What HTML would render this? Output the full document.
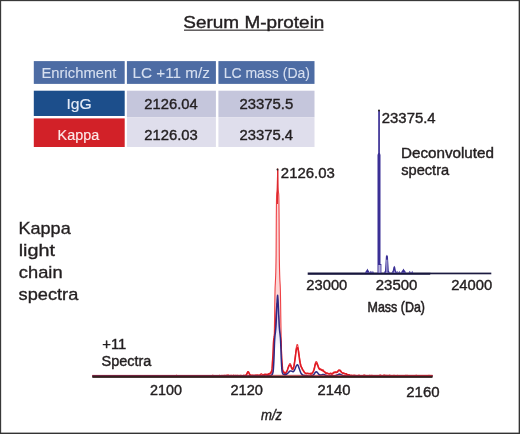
<!DOCTYPE html>
<html><head><meta charset="utf-8"><title>Serum M-protein</title>
<style>html,body{margin:0;padding:0;background:#fff}svg{display:block}</style></head>
<body>
<svg width="520" height="434" viewBox="0 0 520 434" font-family='"Liberation Sans", Arial, Helvetica, sans-serif'>
<rect x="0" y="0" width="520" height="434" fill="#fff"/>
<text x="183.35" y="28.0" font-size="17" textLength="141.06" lengthAdjust="spacingAndGlyphs" fill="#231f20" stroke="#231f20" stroke-width="0.4" >Serum M-protein</text>
<rect x="184" y="29.6" width="139.5" height="1.1" fill="#231f20"/>
<rect x="33.8" y="61.1" width="90.9" height="22.8" fill="#4d6ca4"/>
<rect x="126.9" y="61.1" width="89.0" height="22.8" fill="#4d6ca4"/>
<rect x="218.4" y="61.1" width="96.1" height="22.8" fill="#4d6ca4"/>
<rect x="33.8" y="90.7" width="90.9" height="25.3" fill="#1c4e8b"/>
<rect x="33.8" y="118.4" width="90.9" height="28.6" fill="#d22128"/>
<rect x="126.9" y="90.7" width="89.0" height="26.5" fill="#c5c6dc"/>
<rect x="126.9" y="117.2" width="89.0" height="29.8" fill="#dfdeec"/>
<rect x="218.4" y="90.7" width="96.1" height="26.5" fill="#c5c6dc"/>
<rect x="218.4" y="117.2" width="96.1" height="29.8" fill="#dfdeec"/>
<text x="41.49" y="78.0" font-size="15.2" textLength="74.81" lengthAdjust="spacingAndGlyphs" fill="#d6dff0" stroke="#d6dff0" stroke-width="0.12" >Enrichment</text>
<text x="132.55" y="78.3" font-size="15.2" textLength="77.40" lengthAdjust="spacingAndGlyphs" fill="#d6dff0" stroke="#d6dff0" stroke-width="0.12" >LC +11 m/z</text>
<text x="223.65" y="78.1" font-size="15.2" textLength="86.31" lengthAdjust="spacingAndGlyphs" fill="#d6dff0" stroke="#d6dff0" stroke-width="0.12" >LC mass (Da)</text>
<text x="66.46" y="108.8" font-size="15.2" textLength="25.30" lengthAdjust="spacingAndGlyphs" fill="#e4ebf7" stroke="#e4ebf7" stroke-width="0.15" >IgG</text>
<text x="57.62" y="139.9" font-size="15.2" textLength="41.57" lengthAdjust="spacingAndGlyphs" fill="#fce9e8" stroke="#fce9e8" stroke-width="0.15" >Kappa</text>
<text x="144.36" y="109.4" font-size="15" textLength="53.26" lengthAdjust="spacingAndGlyphs" fill="#231f20" stroke="#231f20" stroke-width="0.4" >2126.04</text>
<text x="144.36" y="140.0" font-size="15" textLength="53.47" lengthAdjust="spacingAndGlyphs" fill="#231f20" stroke="#231f20" stroke-width="0.4" >2126.03</text>
<text x="239.46" y="109.4" font-size="15" textLength="53.85" lengthAdjust="spacingAndGlyphs" fill="#231f20" stroke="#231f20" stroke-width="0.4" >23375.5</text>
<text x="239.46" y="140.0" font-size="15" textLength="53.67" lengthAdjust="spacingAndGlyphs" fill="#231f20" stroke="#231f20" stroke-width="0.4" >23375.4</text>
<text x="18.52" y="233.9" font-size="17" textLength="52.17" lengthAdjust="spacingAndGlyphs" fill="#231f20" stroke="#231f20" stroke-width="0.35" >Kappa</text>
<text x="18.68" y="256.1" font-size="17" textLength="36.25" lengthAdjust="spacingAndGlyphs" fill="#231f20" stroke="#231f20" stroke-width="0.35" >light</text>
<text x="18.83" y="278.2" font-size="17" textLength="43.75" lengthAdjust="spacingAndGlyphs" fill="#231f20" stroke="#231f20" stroke-width="0.35" >chain</text>
<text x="18.61" y="300.0" font-size="17" textLength="59.68" lengthAdjust="spacingAndGlyphs" fill="#231f20" stroke="#231f20" stroke-width="0.35" >spectra</text>
<text x="102.29" y="348.6" font-size="14" textLength="24.02" lengthAdjust="spacingAndGlyphs" fill="#231f20" stroke="#231f20" stroke-width="0.4" >+11</text>
<text x="101.55" y="366.4" font-size="14" textLength="49.84" lengthAdjust="spacingAndGlyphs" fill="#231f20" stroke="#231f20" stroke-width="0.4" >Spectra</text>
<clipPath id="pk"><rect x="270" y="160" width="16" height="192"/></clipPath>
<polygon points="92.5,376.0 92.5,375.9 93.0,376.0 93.5,375.9 94.0,375.8 94.5,375.9 95.0,375.9 95.5,376.0 96.0,376.0 96.5,375.9 97.0,376.0 97.5,376.0 98.0,375.9 98.5,375.9 99.0,375.9 99.5,376.0 100.0,375.9 100.5,375.9 101.0,375.9 101.5,375.9 102.0,376.0 102.5,376.0 103.0,375.9 103.5,375.8 104.0,375.8 104.5,375.9 105.0,376.0 105.5,375.9 106.0,375.9 106.5,375.9 107.0,375.9 107.5,375.9 108.0,375.9 108.5,375.8 109.0,375.8 109.5,375.8 110.0,375.9 110.5,375.9 111.0,375.9 111.5,375.8 112.0,375.9 112.5,376.0 113.0,375.9 113.5,376.0 114.0,375.9 114.5,375.9 115.0,375.9 115.5,375.9 116.0,375.8 116.5,375.8 117.0,375.9 117.5,376.0 118.0,375.9 118.5,375.9 119.0,375.9 119.5,376.0 120.0,375.9 120.5,375.8 121.0,375.8 121.5,375.9 122.0,375.9 122.5,375.9 123.0,375.9 123.5,375.9 124.0,375.9 124.5,375.9 125.0,375.9 125.5,375.7 126.0,375.7 126.5,375.8 127.0,375.9 127.5,375.8 128.0,375.9 128.5,376.0 129.0,376.0 129.5,375.9 130.0,375.9 130.5,375.9 131.0,376.0 131.5,375.9 132.0,375.9 132.5,376.0 133.0,376.0 133.5,376.0 134.0,375.9 134.5,376.0 135.0,376.0 135.5,376.0 136.0,376.0 136.5,375.9 137.0,375.8 137.5,375.8 138.0,375.9 138.5,376.0 139.0,375.9 139.5,376.0 140.0,376.0 140.5,376.0 141.0,376.0 141.5,376.0 142.0,376.0 142.5,375.9 143.0,375.9 143.5,375.9 144.0,375.9 144.5,376.0 145.0,376.0 145.5,376.0 146.0,375.9 146.5,375.9 147.0,375.9 147.5,375.9 148.0,376.0 148.5,376.0 149.0,376.0 149.5,375.9 150.0,375.8 150.5,375.9 151.0,375.9 151.5,376.0 152.0,376.0 152.5,375.9 153.0,375.9 153.5,375.9 154.0,375.8 154.5,375.9 155.0,375.8 155.5,375.8 156.0,375.9 156.5,376.0 157.0,376.0 157.5,375.9 158.0,375.9 158.5,375.9 159.0,376.0 159.5,375.9 160.0,376.0 160.5,376.0 161.0,375.9 161.5,376.0 162.0,376.0 162.5,376.0 163.0,375.9 163.5,375.9 164.0,375.8 164.5,375.9 165.0,375.9 165.5,375.9 166.0,375.9 166.5,375.9 167.0,376.0 167.5,375.9 168.0,375.9 168.5,375.9 169.0,375.8 169.5,375.8 170.0,375.9 170.5,376.0 171.0,375.9 171.5,375.9 172.0,375.8 172.5,375.8 173.0,375.8 173.5,375.9 174.0,376.0 174.5,375.9 175.0,375.9 175.5,375.8 176.0,375.8 176.5,375.9 177.0,375.9 177.5,376.0 178.0,375.9 178.5,375.8 179.0,375.8 179.5,375.9 180.0,375.9 180.5,375.9 181.0,375.9 181.5,375.9 182.0,375.9 182.5,375.9 183.0,376.0 183.5,375.9 184.0,375.9 184.5,375.9 185.0,376.0 185.5,375.9 186.0,375.9 186.5,375.9 187.0,375.9 187.5,375.8 188.0,375.7 188.5,375.7 189.0,375.8 189.5,375.9 190.0,375.9 190.5,375.9 191.0,375.9 191.5,375.8 192.0,375.8 192.5,375.9 193.0,375.9 193.5,375.9 194.0,375.9 194.5,375.8 195.0,375.7 195.5,375.6 196.0,375.7 196.5,375.9 197.0,375.9 197.5,376.0 198.0,375.9 198.5,375.9 199.0,375.9 199.5,375.9 200.0,375.9 200.5,375.9 201.0,375.9 201.5,375.8 202.0,375.8 202.5,375.7 203.0,375.7 203.5,375.8 204.0,375.8 204.5,375.9 205.0,375.8 205.5,375.9 206.0,375.9 206.5,375.8 207.0,375.9 207.5,375.9 208.0,375.8 208.5,375.7 209.0,375.7 209.5,375.9 210.0,375.8 210.5,375.6 211.0,375.6 211.5,375.7 212.0,375.8 212.5,375.9 213.0,375.8 213.5,375.7 214.0,375.7 214.5,375.8 215.0,375.9 215.5,375.8 216.0,375.8 216.5,375.8 217.0,375.9 217.5,375.7 218.0,375.6 218.5,375.7 219.0,375.9 219.5,375.8 220.0,375.7 220.5,375.6 221.0,375.7 221.5,375.8 222.0,375.8 222.5,375.8 223.0,375.7 223.5,375.9 224.0,375.9 224.5,375.7 225.0,375.7 225.5,375.7 226.0,375.8 226.5,375.9 227.0,375.8 227.5,375.6 228.0,375.4 228.5,375.5 229.0,375.7 229.5,375.7 230.0,375.6 230.5,375.6 231.0,375.8 231.5,375.7 232.0,375.7 232.5,375.8 233.0,375.9 233.5,375.8 234.0,375.7 234.5,375.7 235.0,375.7 235.5,375.9 236.0,375.8 236.5,375.7 237.0,375.7 237.5,375.8 238.0,375.8 238.5,375.8 239.0,375.7 239.5,375.8 240.0,375.8 240.5,375.8 241.0,375.7 241.5,375.7 242.0,375.6 242.5,375.6 243.0,375.6 243.5,375.4 244.0,375.4 244.5,375.8 245.0,375.5 245.5,375.4 246.0,375.3 246.5,374.5 247.0,373.4 247.5,372.0 248.0,371.6 248.5,371.8 249.0,372.8 249.5,373.6 250.0,374.5 250.5,375.1 251.0,375.6 251.5,375.4 252.0,375.2 252.5,375.3 253.0,375.3 253.5,375.5 254.0,375.6 254.5,375.5 255.0,375.3 255.5,375.4 256.0,375.2 256.5,375.2 257.0,375.0 257.5,375.1 258.0,375.2 258.5,375.4 259.0,375.4 259.5,375.4 260.0,374.9 260.5,374.2 261.0,373.7 261.5,373.6 262.0,374.1 262.5,374.7 263.0,375.2 263.5,375.1 264.0,375.1 264.5,375.1 265.0,375.0 265.5,375.0 266.0,374.9 266.5,374.9 267.0,374.8 267.5,374.5 268.0,374.3 268.5,374.3 269.0,374.3 269.5,374.2 270.0,374.0 270.1,373.9 270.2,373.8 270.3,373.7 270.4,373.6 270.5,373.6 270.6,373.6 270.7,373.4 270.8,373.5 270.9,373.6 271.0,373.5 271.1,373.3 271.2,372.9 271.3,373.1 271.4,373.1 271.5,373.0 271.6,373.0 271.7,372.6 271.8,372.3 271.9,371.8 272.0,371.6 272.1,371.7 272.2,372.0 272.3,371.6 272.4,371.6 272.5,371.3 272.6,371.0 272.7,370.5 272.8,370.2 272.9,370.0 273.0,369.5 273.1,368.7 273.2,367.7 273.3,366.6 273.4,365.6 273.5,364.6 273.6,363.4 273.7,361.3 273.8,357.8 273.9,353.3 274.0,348.6 274.1,343.4 274.2,338.8 274.3,334.1 274.4,328.9 274.5,323.8 274.6,317.2 274.7,310.1 274.8,302.9 274.9,296.9 275.0,291.4 275.1,287.7 275.2,285.5 275.3,283.9 275.4,281.8 275.5,279.8 275.6,277.4 275.7,275.0 275.8,272.1 275.9,267.1 276.0,261.5 276.1,254.6 276.2,237.3 276.3,218.3 276.4,207.9 276.5,200.1 276.6,195.9 276.7,194.2 276.8,193.1 276.9,192.3 277.0,191.8 277.1,191.1 277.2,189.8 277.3,187.3 277.4,183.4 277.5,179.1 277.6,174.2 277.7,168.8 277.8,174.4 277.9,179.2 278.0,183.3 278.1,186.8 278.2,189.1 278.3,190.3 278.4,191.4 278.5,192.6 278.6,193.1 278.7,194.0 278.8,195.9 278.9,200.2 279.0,208.1 279.1,218.4 279.2,237.1 279.3,254.9 279.4,262.0 279.5,267.6 279.6,271.7 279.7,275.2 279.8,278.1 279.9,280.4 280.0,282.0 280.1,283.7 280.2,285.6 280.3,288.1 280.4,291.3 280.5,296.5 280.6,303.0 280.7,310.0 280.8,317.0 280.9,323.5 281.0,328.9 281.1,333.7 281.2,338.2 281.3,343.0 281.4,348.3 281.5,353.3 281.6,357.6 281.7,360.9 281.8,363.0 281.9,364.6 282.0,365.3 282.1,366.0 282.2,367.1 282.3,368.2 282.4,369.0 282.5,369.6 282.6,369.9 282.7,370.5 282.8,370.6 282.9,370.4 283.0,370.5 283.1,370.6 283.2,370.9 283.3,371.4 283.4,372.0 283.5,372.2 283.6,372.4 283.7,372.4 283.8,372.4 283.9,372.2 284.0,372.2 284.1,372.2 284.2,372.1 284.3,372.2 284.4,372.3 284.5,372.5 284.6,372.7 284.7,372.8 284.8,373.0 284.9,373.1 285.0,373.2 285.1,373.1 285.2,373.2 285.3,373.3 285.4,372.9 285.5,372.7 285.6,372.9 285.7,373.1 285.8,372.9 285.9,372.8 286.0,372.7 286.5,372.2 287.0,371.3 287.5,369.6 288.0,367.8 288.5,366.2 289.0,364.9 289.5,363.9 290.0,363.5 290.5,363.9 291.0,365.2 291.5,366.7 292.0,368.0 292.5,368.4 293.0,368.1 293.5,367.0 294.0,365.2 294.5,362.2 295.0,358.1 295.5,353.8 296.0,349.7 296.5,346.4 297.0,344.6 297.5,344.5 298.0,346.5 298.5,349.7 299.0,353.7 299.5,357.4 300.0,360.8 300.5,363.2 301.0,365.2 301.5,366.9 302.0,367.8 302.5,368.6 303.0,369.8 303.5,370.5 304.0,371.2 304.5,372.1 305.0,372.6 305.5,373.2 306.0,373.2 306.5,373.2 307.0,373.3 307.5,373.5 308.0,373.5 308.5,373.4 309.0,373.3 309.5,373.5 310.0,373.4 310.5,373.3 311.0,372.9 311.5,373.1 312.0,373.2 312.5,372.7 313.0,371.9 313.5,370.8 314.0,368.8 314.5,366.5 315.0,364.2 315.5,362.5 316.0,361.5 316.5,361.6 317.0,362.3 317.5,363.6 318.0,365.1 318.5,366.7 319.0,367.8 319.5,368.3 320.0,368.9 320.5,368.9 321.0,369.1 321.5,369.3 322.0,369.8 322.5,369.7 323.0,369.5 323.5,370.2 324.0,371.1 324.5,371.5 325.0,371.8 325.5,372.2 326.0,372.5 326.5,372.9 327.0,373.0 327.5,373.4 328.0,373.5 328.5,373.8 329.0,373.8 329.5,373.7 330.0,373.7 330.5,373.7 331.0,374.0 331.5,373.9 332.0,373.8 332.5,373.5 333.0,372.8 333.5,372.3 334.0,371.9 334.5,372.2 335.0,371.9 335.5,371.7 336.0,371.8 336.5,372.1 337.0,371.9 337.5,371.5 338.0,370.9 338.5,370.4 339.0,369.9 339.5,370.0 340.0,370.1 340.5,370.3 341.0,371.1 341.5,371.7 342.0,372.6 342.5,373.1 343.0,373.1 343.5,373.3 344.0,373.6 344.5,373.7 345.0,373.8 345.5,373.9 346.0,374.1 346.5,374.2 347.0,374.5 347.5,374.7 348.0,375.1 348.5,375.1 349.0,375.2 349.5,375.6 350.0,375.8 350.5,375.6 351.0,375.5 351.5,375.2 352.0,375.2 352.5,375.5 353.0,375.8 353.5,375.3 354.0,375.1 354.5,375.0 355.0,375.3 355.5,375.6 356.0,375.8 356.5,375.7 357.0,375.9 357.5,375.8 358.0,375.3 358.5,375.2 359.0,374.9 359.5,375.2 360.0,375.5 360.5,375.8 361.0,375.9 361.5,375.9 362.0,375.9 362.5,375.8 363.0,375.7 363.5,375.5 364.0,375.8 364.5,375.9 365.0,375.8 365.5,375.9 366.0,375.9 366.5,375.9 367.0,375.8 367.5,375.8 368.0,375.8 368.5,375.9 369.0,375.8 369.5,375.8 370.0,375.5 370.5,375.4 371.0,375.7 371.5,375.8 372.0,375.7 372.5,375.7 373.0,375.9 373.5,375.8 374.0,375.7 374.5,375.8 375.0,375.9 375.5,375.9 376.0,375.8 376.5,375.7 377.0,375.8 377.5,375.8 378.0,375.8 378.5,375.8 379.0,375.8 379.5,375.7 380.0,375.7 380.5,376.0 381.0,375.9 381.5,375.8 382.0,375.9 382.5,375.7 383.0,375.5 383.5,375.3 384.0,375.4 384.5,375.7 385.0,376.0 385.5,375.7 386.0,375.6 386.5,375.7 387.0,375.7 387.5,376.0 388.0,375.8 388.5,375.7 389.0,375.8 389.5,375.8 390.0,375.8 390.5,375.8 391.0,375.9 391.5,375.9 392.0,375.9 392.5,375.8 393.0,375.7 393.5,375.4 394.0,375.3 394.5,375.4 395.0,375.8 395.5,375.9 396.0,375.7 396.5,375.7 397.0,375.5 397.5,375.4 398.0,375.5 398.5,375.7 399.0,375.9 399.5,375.8 400.0,375.7 400.5,375.8 401.0,375.9 401.5,376.0 402.0,376.0 402.5,375.9 403.0,375.9 403.5,375.7 404.0,375.8 404.5,375.7 405.0,375.9 405.5,376.0 406.0,375.8 406.5,375.7 407.0,375.8 407.5,375.9 408.0,376.0 408.5,375.9 409.0,375.9 409.5,376.0 410.0,375.9 410.5,375.9 411.0,375.9 411.5,375.8 412.0,375.8 412.5,375.7 413.0,375.8 413.5,376.0 414.0,375.8 414.5,375.8 415.0,375.8 415.5,375.9 416.0,375.9 416.5,375.9 417.0,375.8 417.5,375.8 418.0,375.8 418.5,375.8 419.0,375.8 419.5,376.0 420.0,376.0 420.5,376.0 421.0,375.8 421.5,375.8 422.0,375.8 422.5,375.9 423.0,375.9 423.5,375.8 424.0,375.9 424.5,375.9 425.0,375.9 425.5,375.9 426.0,376.0 426.5,375.9 427.0,376.0 427.5,375.9 428.0,375.9 428.5,375.9 429.0,376.0 429.5,375.9 430.0,375.9 430.5,375.9 431.0,376.0 431.5,375.9 432.0,375.8 432.5,375.9 432.5,376.0" fill="#fbd6d6" clip-path="url(#pk)"/>
<polyline points="92.5,375.9 93.0,376.0 93.5,375.9 94.0,375.8 94.5,375.9 95.0,375.9 95.5,376.0 96.0,376.0 96.5,375.9 97.0,376.0 97.5,376.0 98.0,375.9 98.5,375.9 99.0,375.9 99.5,376.0 100.0,375.9 100.5,375.9 101.0,375.9 101.5,375.9 102.0,376.0 102.5,376.0 103.0,375.9 103.5,375.8 104.0,375.8 104.5,375.9 105.0,376.0 105.5,375.9 106.0,375.9 106.5,375.9 107.0,375.9 107.5,375.9 108.0,375.9 108.5,375.8 109.0,375.8 109.5,375.8 110.0,375.9 110.5,375.9 111.0,375.9 111.5,375.8 112.0,375.9 112.5,376.0 113.0,375.9 113.5,376.0 114.0,375.9 114.5,375.9 115.0,375.9 115.5,375.9 116.0,375.8 116.5,375.8 117.0,375.9 117.5,376.0 118.0,375.9 118.5,375.9 119.0,375.9 119.5,376.0 120.0,375.9 120.5,375.8 121.0,375.8 121.5,375.9 122.0,375.9 122.5,375.9 123.0,375.9 123.5,375.9 124.0,375.9 124.5,375.9 125.0,375.9 125.5,375.7 126.0,375.7 126.5,375.8 127.0,375.9 127.5,375.8 128.0,375.9 128.5,376.0 129.0,376.0 129.5,375.9 130.0,375.9 130.5,375.9 131.0,376.0 131.5,375.9 132.0,375.9 132.5,376.0 133.0,376.0 133.5,376.0 134.0,375.9 134.5,376.0 135.0,376.0 135.5,376.0 136.0,376.0 136.5,375.9 137.0,375.8 137.5,375.8 138.0,375.9 138.5,376.0 139.0,375.9 139.5,376.0 140.0,376.0 140.5,376.0 141.0,376.0 141.5,376.0 142.0,376.0 142.5,375.9 143.0,375.9 143.5,375.9 144.0,375.9 144.5,376.0 145.0,376.0 145.5,376.0 146.0,375.9 146.5,375.9 147.0,375.9 147.5,375.9 148.0,376.0 148.5,376.0 149.0,376.0 149.5,375.9 150.0,375.8 150.5,375.9 151.0,375.9 151.5,376.0 152.0,376.0 152.5,375.9 153.0,375.9 153.5,375.9 154.0,375.8 154.5,375.9 155.0,375.8 155.5,375.8 156.0,375.9 156.5,376.0 157.0,376.0 157.5,375.9 158.0,375.9 158.5,375.9 159.0,376.0 159.5,375.9 160.0,376.0 160.5,376.0 161.0,375.9 161.5,376.0 162.0,376.0 162.5,376.0 163.0,375.9 163.5,375.9 164.0,375.8 164.5,375.9 165.0,375.9 165.5,375.9 166.0,375.9 166.5,375.9 167.0,376.0 167.5,375.9 168.0,375.9 168.5,375.9 169.0,375.8 169.5,375.8 170.0,375.9 170.5,376.0 171.0,375.9 171.5,375.9 172.0,375.8 172.5,375.8 173.0,375.8 173.5,375.9 174.0,376.0 174.5,375.9 175.0,375.9 175.5,375.8 176.0,375.8 176.5,375.9 177.0,375.9 177.5,376.0 178.0,375.9 178.5,375.8 179.0,375.8 179.5,375.9 180.0,375.9 180.5,375.9 181.0,375.9 181.5,375.9 182.0,375.9 182.5,375.9 183.0,376.0 183.5,375.9 184.0,375.9 184.5,375.9 185.0,376.0 185.5,375.9 186.0,375.9 186.5,375.9 187.0,375.9 187.5,375.8 188.0,375.7 188.5,375.7 189.0,375.8 189.5,375.9 190.0,375.9 190.5,375.9 191.0,375.9 191.5,375.8 192.0,375.8 192.5,375.9 193.0,375.9 193.5,375.9 194.0,375.9 194.5,375.8 195.0,375.7 195.5,375.6 196.0,375.7 196.5,375.9 197.0,375.9 197.5,376.0 198.0,375.9 198.5,375.9 199.0,375.9 199.5,375.9 200.0,375.9 200.5,375.9 201.0,375.9 201.5,375.8 202.0,375.8 202.5,375.7 203.0,375.7 203.5,375.8 204.0,375.8 204.5,375.9 205.0,375.8 205.5,375.9 206.0,375.9 206.5,375.8 207.0,375.9 207.5,375.9 208.0,375.8 208.5,375.7 209.0,375.7 209.5,375.9 210.0,375.8 210.5,375.6 211.0,375.6 211.5,375.7 212.0,375.8 212.5,375.9 213.0,375.8 213.5,375.7 214.0,375.7 214.5,375.8 215.0,375.9 215.5,375.8 216.0,375.8 216.5,375.8 217.0,375.9 217.5,375.7 218.0,375.6 218.5,375.7 219.0,375.9 219.5,375.8 220.0,375.7 220.5,375.6 221.0,375.7 221.5,375.8 222.0,375.8 222.5,375.8 223.0,375.7 223.5,375.9 224.0,375.9 224.5,375.7 225.0,375.7 225.5,375.7 226.0,375.8 226.5,375.9 227.0,375.8 227.5,375.6 228.0,375.4 228.5,375.5 229.0,375.7 229.5,375.7 230.0,375.6 230.5,375.6 231.0,375.8 231.5,375.7 232.0,375.7 232.5,375.8 233.0,375.9 233.5,375.8 234.0,375.7 234.5,375.7 235.0,375.7 235.5,375.9 236.0,375.8 236.5,375.7 237.0,375.7 237.5,375.8 238.0,375.8 238.5,375.8 239.0,375.7 239.5,375.8 240.0,375.8 240.5,375.8 241.0,375.7 241.5,375.7 242.0,375.6 242.5,375.6 243.0,375.6 243.5,375.4 244.0,375.4 244.5,375.8 245.0,375.5 245.5,375.4 246.0,375.3 246.5,374.5 247.0,373.4 247.5,372.0 248.0,371.6 248.5,371.8 249.0,372.8 249.5,373.6 250.0,374.5 250.5,375.1 251.0,375.6 251.5,375.4 252.0,375.2 252.5,375.3 253.0,375.3 253.5,375.5 254.0,375.6 254.5,375.5 255.0,375.3 255.5,375.4 256.0,375.2 256.5,375.2 257.0,375.0 257.5,375.1 258.0,375.2 258.5,375.4 259.0,375.4 259.5,375.4 260.0,374.9 260.5,374.2 261.0,373.7 261.5,373.6 262.0,374.1 262.5,374.7 263.0,375.2 263.5,375.1 264.0,375.1 264.5,375.1 265.0,375.0 265.5,375.0 266.0,374.9 266.5,374.9 267.0,374.8 267.5,374.5 268.0,374.3 268.5,374.3 269.0,374.3 269.5,374.2 270.0,374.0 270.1,373.9 270.2,373.8 270.3,373.7 270.4,373.6 270.5,373.6 270.6,373.6 270.7,373.4 270.8,373.5 270.9,373.6 271.0,373.5 271.1,373.3 271.2,372.9 271.3,373.1 271.4,373.1 271.5,373.0 271.6,373.0 271.7,372.6 271.8,372.3 271.9,371.8 272.0,371.6 272.1,371.7 272.2,372.0 272.3,371.6 272.4,371.6 272.5,371.3 272.6,371.0 272.7,370.5 272.8,370.2 272.9,370.0 273.0,369.5 273.1,368.7 273.2,367.7 273.3,366.6 273.4,365.6 273.5,364.6 273.6,363.4 273.7,361.3 273.8,357.8 273.9,353.3 274.0,348.6 274.1,343.4 274.2,338.8 274.3,334.1 274.4,328.9 274.5,323.8 274.6,317.2 274.7,310.1 274.8,302.9 274.9,296.9 275.0,291.4 275.1,287.7 275.2,285.5 275.3,283.9 275.4,281.8 275.5,279.8 275.6,277.4 275.7,275.0 275.8,272.1 275.9,267.1 276.0,261.5 276.1,254.6 276.2,237.3 276.3,218.3 276.4,207.9 276.5,200.1 276.6,195.9 276.7,194.2 276.8,193.1 276.9,192.3 277.0,191.8 277.1,191.1 277.2,189.8 277.3,187.3 277.4,183.4 277.5,179.1 277.6,174.2 277.7,168.8 277.8,174.4 277.9,179.2 278.0,183.3 278.1,186.8 278.2,189.1 278.3,190.3 278.4,191.4 278.5,192.6 278.6,193.1 278.7,194.0 278.8,195.9 278.9,200.2 279.0,208.1 279.1,218.4 279.2,237.1 279.3,254.9 279.4,262.0 279.5,267.6 279.6,271.7 279.7,275.2 279.8,278.1 279.9,280.4 280.0,282.0 280.1,283.7 280.2,285.6 280.3,288.1 280.4,291.3 280.5,296.5 280.6,303.0 280.7,310.0 280.8,317.0 280.9,323.5 281.0,328.9 281.1,333.7 281.2,338.2 281.3,343.0 281.4,348.3 281.5,353.3 281.6,357.6 281.7,360.9 281.8,363.0 281.9,364.6 282.0,365.3 282.1,366.0 282.2,367.1 282.3,368.2 282.4,369.0 282.5,369.6 282.6,369.9 282.7,370.5 282.8,370.6 282.9,370.4 283.0,370.5 283.1,370.6 283.2,370.9 283.3,371.4 283.4,372.0 283.5,372.2 283.6,372.4 283.7,372.4 283.8,372.4 283.9,372.2 284.0,372.2 284.1,372.2 284.2,372.1 284.3,372.2 284.4,372.3 284.5,372.5 284.6,372.7 284.7,372.8 284.8,373.0 284.9,373.1 285.0,373.2 285.1,373.1 285.2,373.2 285.3,373.3 285.4,372.9 285.5,372.7 285.6,372.9 285.7,373.1 285.8,372.9 285.9,372.8 286.0,372.7 286.5,372.2 287.0,371.3 287.5,369.6 288.0,367.8 288.5,366.2 289.0,364.9 289.5,363.9 290.0,363.5 290.5,363.9 291.0,365.2 291.5,366.7 292.0,368.0 292.5,368.4 293.0,368.1 293.5,367.0 294.0,365.2 294.5,362.2 295.0,358.1 295.5,353.8 296.0,349.7 296.5,346.4 297.0,344.6 297.5,344.5 298.0,346.5 298.5,349.7 299.0,353.7 299.5,357.4 300.0,360.8 300.5,363.2 301.0,365.2 301.5,366.9 302.0,367.8 302.5,368.6 303.0,369.8 303.5,370.5 304.0,371.2 304.5,372.1 305.0,372.6 305.5,373.2 306.0,373.2 306.5,373.2 307.0,373.3 307.5,373.5 308.0,373.5 308.5,373.4 309.0,373.3 309.5,373.5 310.0,373.4 310.5,373.3 311.0,372.9 311.5,373.1 312.0,373.2 312.5,372.7 313.0,371.9 313.5,370.8 314.0,368.8 314.5,366.5 315.0,364.2 315.5,362.5 316.0,361.5 316.5,361.6 317.0,362.3 317.5,363.6 318.0,365.1 318.5,366.7 319.0,367.8 319.5,368.3 320.0,368.9 320.5,368.9 321.0,369.1 321.5,369.3 322.0,369.8 322.5,369.7 323.0,369.5 323.5,370.2 324.0,371.1 324.5,371.5 325.0,371.8 325.5,372.2 326.0,372.5 326.5,372.9 327.0,373.0 327.5,373.4 328.0,373.5 328.5,373.8 329.0,373.8 329.5,373.7 330.0,373.7 330.5,373.7 331.0,374.0 331.5,373.9 332.0,373.8 332.5,373.5 333.0,372.8 333.5,372.3 334.0,371.9 334.5,372.2 335.0,371.9 335.5,371.7 336.0,371.8 336.5,372.1 337.0,371.9 337.5,371.5 338.0,370.9 338.5,370.4 339.0,369.9 339.5,370.0 340.0,370.1 340.5,370.3 341.0,371.1 341.5,371.7 342.0,372.6 342.5,373.1 343.0,373.1 343.5,373.3 344.0,373.6 344.5,373.7 345.0,373.8 345.5,373.9 346.0,374.1 346.5,374.2 347.0,374.5 347.5,374.7 348.0,375.1 348.5,375.1 349.0,375.2 349.5,375.6 350.0,375.8 350.5,375.6 351.0,375.5 351.5,375.2 352.0,375.2 352.5,375.5 353.0,375.8 353.5,375.3 354.0,375.1 354.5,375.0 355.0,375.3 355.5,375.6 356.0,375.8 356.5,375.7 357.0,375.9 357.5,375.8 358.0,375.3 358.5,375.2 359.0,374.9 359.5,375.2 360.0,375.5 360.5,375.8 361.0,375.9 361.5,375.9 362.0,375.9 362.5,375.8 363.0,375.7 363.5,375.5 364.0,375.8 364.5,375.9 365.0,375.8 365.5,375.9 366.0,375.9 366.5,375.9 367.0,375.8 367.5,375.8 368.0,375.8 368.5,375.9 369.0,375.8 369.5,375.8 370.0,375.5 370.5,375.4 371.0,375.7 371.5,375.8 372.0,375.7 372.5,375.7 373.0,375.9 373.5,375.8 374.0,375.7 374.5,375.8 375.0,375.9 375.5,375.9 376.0,375.8 376.5,375.7 377.0,375.8 377.5,375.8 378.0,375.8 378.5,375.8 379.0,375.8 379.5,375.7 380.0,375.7 380.5,376.0 381.0,375.9 381.5,375.8 382.0,375.9 382.5,375.7 383.0,375.5 383.5,375.3 384.0,375.4 384.5,375.7 385.0,376.0 385.5,375.7 386.0,375.6 386.5,375.7 387.0,375.7 387.5,376.0 388.0,375.8 388.5,375.7 389.0,375.8 389.5,375.8 390.0,375.8 390.5,375.8 391.0,375.9 391.5,375.9 392.0,375.9 392.5,375.8 393.0,375.7 393.5,375.4 394.0,375.3 394.5,375.4 395.0,375.8 395.5,375.9 396.0,375.7 396.5,375.7 397.0,375.5 397.5,375.4 398.0,375.5 398.5,375.7 399.0,375.9 399.5,375.8 400.0,375.7 400.5,375.8 401.0,375.9 401.5,376.0 402.0,376.0 402.5,375.9 403.0,375.9 403.5,375.7 404.0,375.8 404.5,375.7 405.0,375.9 405.5,376.0 406.0,375.8 406.5,375.7 407.0,375.8 407.5,375.9 408.0,376.0 408.5,375.9 409.0,375.9 409.5,376.0 410.0,375.9 410.5,375.9 411.0,375.9 411.5,375.8 412.0,375.8 412.5,375.7 413.0,375.8 413.5,376.0 414.0,375.8 414.5,375.8 415.0,375.8 415.5,375.9 416.0,375.9 416.5,375.9 417.0,375.8 417.5,375.8 418.0,375.8 418.5,375.8 419.0,375.8 419.5,376.0 420.0,376.0 420.5,376.0 421.0,375.8 421.5,375.8 422.0,375.8 422.5,375.9 423.0,375.9 423.5,375.8 424.0,375.9 424.5,375.9 425.0,375.9 425.5,375.9 426.0,376.0 426.5,375.9 427.0,376.0 427.5,375.9 428.0,375.9 428.5,375.9 429.0,376.0 429.5,375.9 430.0,375.9 430.5,375.9 431.0,376.0 431.5,375.9 432.0,375.8 432.5,375.9" fill="none" stroke="#ee4145" stroke-width="1.1" stroke-linejoin="round" opacity="1"/>
<polyline points="92.5,375.9 93.0,375.9 93.5,375.8 94.0,375.9 94.5,375.8 95.0,375.9 95.5,375.8 96.0,375.8 96.5,375.8 97.0,375.9 97.5,375.9 98.0,375.8 98.5,375.9 99.0,376.0 99.5,375.9 100.0,376.0 100.5,376.0 101.0,376.0 101.5,376.0 102.0,375.9 102.5,375.9 103.0,375.9 103.5,375.9 104.0,375.9 104.5,375.9 105.0,375.9 105.5,375.8 106.0,375.8 106.5,375.8 107.0,375.9 107.5,376.0 108.0,376.0 108.5,375.9 109.0,376.0 109.5,375.9 110.0,375.9 110.5,375.9 111.0,376.0 111.5,376.0 112.0,376.0 112.5,376.0 113.0,376.0 113.5,376.0 114.0,375.9 114.5,375.8 115.0,375.9 115.5,375.9 116.0,376.0 116.5,376.0 117.0,376.0 117.5,376.0 118.0,376.0 118.5,376.0 119.0,376.0 119.5,375.9 120.0,375.9 120.5,375.9 121.0,376.0 121.5,375.9 122.0,375.8 122.5,375.9 123.0,375.9 123.5,375.9 124.0,375.9 124.5,375.8 125.0,375.8 125.5,375.8 126.0,375.9 126.5,376.0 127.0,376.0 127.5,376.0 128.0,376.0 128.5,376.0 129.0,376.0 129.5,375.9 130.0,375.9 130.5,375.8 131.0,375.9 131.5,375.9 132.0,375.8 132.5,375.9 133.0,376.0 133.5,375.9 134.0,375.9 134.5,376.0 135.0,376.0 135.5,375.9 136.0,375.9 136.5,375.9 137.0,375.9 137.5,375.9 138.0,375.9 138.5,375.9 139.0,375.9 139.5,376.0 140.0,375.9 140.5,375.9 141.0,376.0 141.5,376.0 142.0,375.9 142.5,376.0 143.0,376.0 143.5,376.0 144.0,375.9 144.5,375.8 145.0,375.7 145.5,375.7 146.0,375.8 146.5,376.0 147.0,375.9 147.5,375.9 148.0,375.8 148.5,375.8 149.0,375.8 149.5,375.9 150.0,375.9 150.5,375.9 151.0,376.0 151.5,376.0 152.0,375.9 152.5,375.9 153.0,375.9 153.5,376.0 154.0,375.9 154.5,375.8 155.0,375.8 155.5,375.9 156.0,376.0 156.5,375.9 157.0,375.9 157.5,375.9 158.0,375.8 158.5,375.9 159.0,376.0 159.5,376.0 160.0,376.0 160.5,376.0 161.0,375.9 161.5,376.0 162.0,376.0 162.5,375.8 163.0,375.8 163.5,375.8 164.0,375.9 164.5,375.8 165.0,375.7 165.5,375.7 166.0,375.8 166.5,375.8 167.0,375.9 167.5,375.9 168.0,376.0 168.5,375.9 169.0,375.8 169.5,376.0 170.0,375.9 170.5,375.8 171.0,375.8 171.5,375.9 172.0,376.0 172.5,375.9 173.0,375.9 173.5,375.9 174.0,375.9 174.5,376.0 175.0,375.9 175.5,375.8 176.0,375.7 176.5,375.5 177.0,375.7 177.5,375.8 178.0,376.0 178.5,376.0 179.0,376.0 179.5,376.0 180.0,375.9 180.5,375.9 181.0,375.9 181.5,375.9 182.0,375.8 182.5,375.8 183.0,375.9 183.5,375.9 184.0,375.9 184.5,375.9 185.0,376.0 185.5,375.9 186.0,375.9 186.5,375.9 187.0,375.8 187.5,375.8 188.0,375.9 188.5,375.9 189.0,375.9 189.5,375.9 190.0,375.9 190.5,375.8 191.0,375.8 191.5,375.9 192.0,375.9 192.5,375.9 193.0,375.9 193.5,375.9 194.0,375.8 194.5,375.9 195.0,375.9 195.5,375.9 196.0,376.0 196.5,375.9 197.0,375.8 197.5,375.8 198.0,375.8 198.5,375.8 199.0,375.8 199.5,375.8 200.0,375.9 200.5,375.9 201.0,376.0 201.5,376.0 202.0,375.9 202.5,375.9 203.0,375.8 203.5,375.9 204.0,375.9 204.5,375.9 205.0,375.9 205.5,375.9 206.0,375.8 206.5,375.7 207.0,375.7 207.5,375.7 208.0,375.8 208.5,375.9 209.0,375.8 209.5,375.7 210.0,375.7 210.5,375.7 211.0,375.8 211.5,375.7 212.0,375.7 212.5,375.5 213.0,375.6 213.5,375.7 214.0,375.8 214.5,375.9 215.0,375.9 215.5,375.9 216.0,375.9 216.5,375.9 217.0,375.9 217.5,375.9 218.0,375.9 218.5,375.9 219.0,375.8 219.5,375.6 220.0,375.7 220.5,375.9 221.0,375.8 221.5,375.7 222.0,375.6 222.5,375.7 223.0,375.8 223.5,375.8 224.0,375.6 224.5,375.6 225.0,375.6 225.5,375.7 226.0,375.6 226.5,375.5 227.0,375.4 227.5,375.3 228.0,375.4 228.5,375.4 229.0,375.5 229.5,375.7 230.0,375.9 230.5,375.6 231.0,375.5 231.5,375.5 232.0,375.7 232.5,375.9 233.0,375.5 233.5,375.4 234.0,375.6 234.5,375.8 235.0,375.8 235.5,375.6 236.0,375.5 236.5,375.7 237.0,375.8 237.5,375.5 238.0,375.6 238.5,375.7 239.0,375.8 239.5,375.7 240.0,375.6 240.5,375.5 241.0,375.5 241.5,375.7 242.0,375.8 242.5,375.7 243.0,375.8 243.5,375.6 244.0,375.6 244.5,375.6 245.0,375.6 245.5,375.6 246.0,375.3 246.5,374.5 247.0,373.7 247.5,372.5 248.0,371.8 248.5,372.2 249.0,373.2 249.5,374.2 250.0,374.8 250.5,375.2 251.0,375.3 251.5,375.4 252.0,375.5 252.5,375.5 253.0,375.2 253.5,375.4 254.0,375.6 254.5,375.6 255.0,375.3 255.5,375.2 256.0,375.3 256.5,375.3 257.0,375.3 257.5,375.4 258.0,375.4 258.5,375.5 259.0,375.4 259.5,375.2 260.0,375.2 260.5,375.1 261.0,375.2 261.5,375.2 262.0,375.3 262.5,375.3 263.0,375.2 263.5,374.9 264.0,374.6 264.5,374.4 265.0,374.3 265.5,374.3 266.0,374.2 266.5,374.4 267.0,374.6 267.5,374.6 268.0,374.3 268.5,373.9 269.0,373.7 269.5,373.7 270.0,373.5 270.1,373.1 270.2,373.3 270.3,373.3 270.4,372.8 270.5,372.8 270.6,373.1 270.7,372.8 270.8,372.7 270.9,372.7 271.0,372.2 271.1,371.8 271.2,371.7 271.3,371.8 271.4,371.5 271.5,371.4 271.6,370.9 271.7,370.3 271.8,369.9 271.9,369.1 272.0,368.4 272.1,367.4 272.2,366.0 272.3,364.3 272.4,362.7 272.5,361.5 272.6,360.5 272.7,359.3 272.8,357.7 272.9,355.8 273.0,353.6 273.1,351.3 273.2,349.2 273.3,347.1 273.4,344.9 273.5,342.9 273.6,341.5 273.7,340.3 273.8,339.3 273.9,338.7 274.0,338.3 274.1,338.1 274.2,337.6 274.3,337.0 274.4,336.3 274.5,335.7 274.6,334.9 274.7,334.4 274.8,333.9 274.9,332.8 275.0,331.6 275.1,330.7 275.2,329.8 275.3,328.9 275.4,327.5 275.5,325.8 275.6,324.4 275.7,322.7 275.8,321.2 275.9,319.3 276.0,317.7 276.1,316.2 276.2,314.3 276.3,312.8 276.4,311.3 276.5,309.7 276.6,308.0 276.7,306.7 276.8,305.9 276.9,305.2 277.0,304.4 277.1,303.7 277.2,303.4 277.3,303.9 277.4,304.4 277.5,305.0 277.6,305.9 277.7,307.0 277.8,308.3 277.9,309.7 278.0,310.9 278.1,312.5 278.2,314.3 278.3,315.8 278.4,317.3 278.5,319.0 278.6,320.9 278.7,322.8 278.8,324.2 278.9,325.5 279.0,326.7 279.1,328.1 279.2,329.5 279.3,331.1 279.4,331.8 279.5,332.4 279.6,333.4 279.7,334.3 279.8,335.0 279.9,335.7 280.0,336.0 280.1,336.4 280.2,336.8 280.3,337.5 280.4,338.1 280.5,339.0 280.6,339.8 280.7,341.2 280.8,342.2 280.9,343.3 281.0,344.7 281.1,346.5 281.2,348.6 281.3,351.2 281.4,353.2 281.5,355.4 281.6,357.4 281.7,359.0 281.8,360.6 281.9,362.0 282.0,363.0 282.1,363.8 282.2,365.0 282.3,366.6 282.4,367.9 282.5,368.9 282.6,369.4 282.7,370.0 282.8,370.5 282.9,370.8 283.0,371.0 283.1,371.0 283.2,371.3 283.3,371.4 283.4,371.7 283.5,371.5 283.6,371.8 283.7,372.2 283.8,372.5 283.9,372.4 284.0,372.5 284.1,372.7 284.2,372.6 284.3,372.6 284.4,372.7 284.5,372.9 284.6,373.2 284.7,373.2 284.8,373.2 284.9,373.0 285.0,373.1 285.1,373.3 285.2,373.2 285.3,373.2 285.4,372.9 285.5,373.0 285.6,373.2 285.7,373.2 285.8,373.1 285.9,372.6 286.0,372.4 286.5,371.8 287.0,371.0 287.5,369.8 288.0,368.3 288.5,367.0 289.0,365.8 289.5,365.4 290.0,365.1 290.5,365.2 291.0,366.5 291.5,367.9 292.0,368.9 292.5,369.5 293.0,369.2 293.5,368.2 294.0,366.0 294.5,363.1 295.0,359.6 295.5,356.0 296.0,351.9 296.5,348.9 297.0,347.9 297.5,347.6 298.0,348.9 298.5,351.8 299.0,355.7 299.5,359.4 300.0,362.7 300.5,365.2 301.0,366.5 301.5,367.4 302.0,368.4 302.5,369.7 303.0,370.2 303.5,371.0 304.0,371.9 304.5,372.5 305.0,373.0 305.5,373.5 306.0,373.6 306.5,373.7 307.0,373.4 307.5,373.4 308.0,373.5 308.5,373.8 309.0,373.8 309.5,373.8 310.0,373.8 310.5,374.1 311.0,373.8 311.5,374.0 312.0,373.4 312.5,372.8 313.0,372.1 313.5,371.2 314.0,369.7 314.5,368.0 315.0,365.8 315.5,364.0 316.0,363.0 316.5,363.1 317.0,363.8 317.5,365.0 318.0,366.3 318.5,367.6 319.0,368.7 319.5,369.2 320.0,369.5 320.5,369.4 321.0,369.8 321.5,370.1 322.0,370.5 322.5,370.6 323.0,370.8 323.5,371.2 324.0,371.6 324.5,372.0 325.0,372.4 325.5,373.0 326.0,373.5 326.5,373.4 327.0,373.2 327.5,373.2 328.0,373.4 328.5,373.8 329.0,373.9 329.5,373.9 330.0,373.5 330.5,373.3 331.0,373.4 331.5,373.9 332.0,374.1 332.5,373.6 333.0,373.4 333.5,372.8 334.0,372.7 334.5,372.6 335.0,372.3 335.5,372.4 336.0,372.5 336.5,372.4 337.0,372.2 337.5,372.0 338.0,371.2 338.5,370.5 339.0,370.3 339.5,370.7 340.0,370.6 340.5,371.0 341.0,371.7 341.5,372.3 342.0,372.7 342.5,373.0 343.0,373.2 343.5,373.1 344.0,373.3 344.5,373.6 345.0,373.8 345.5,373.7 346.0,373.7 346.5,374.1 347.0,374.3 347.5,374.8 348.0,374.8 348.5,374.9 349.0,374.7 349.5,375.0 350.0,375.3 350.5,375.9 351.0,375.5 351.5,375.5 352.0,375.7 352.5,375.7 353.0,375.6 353.5,375.7 354.0,375.9 354.5,375.7 355.0,375.8 355.5,375.7 356.0,375.6 356.5,375.9 357.0,375.8 357.5,375.8 358.0,375.8 358.5,375.7 359.0,375.7 359.5,375.9 360.0,375.9 360.5,375.9 361.0,375.9 361.5,375.8 362.0,375.7 362.5,375.7 363.0,375.9 363.5,375.5 364.0,375.3 364.5,375.3 365.0,375.6 365.5,375.8 366.0,376.0 366.5,375.9 367.0,375.9 367.5,375.9 368.0,375.8 368.5,375.9 369.0,375.7 369.5,375.5 370.0,375.7 370.5,375.8 371.0,375.9 371.5,375.6 372.0,375.6 372.5,375.7 373.0,375.9 373.5,376.0 374.0,375.9 374.5,375.8 375.0,376.0 375.5,375.9 376.0,375.8 376.5,375.8 377.0,375.8 377.5,375.8 378.0,375.7 378.5,375.8 379.0,375.9 379.5,375.6 380.0,375.3 380.5,375.3 381.0,375.5 381.5,375.9 382.0,375.9 382.5,375.9 383.0,375.7 383.5,375.6 384.0,375.5 384.5,375.4 385.0,375.3 385.5,375.7 386.0,375.9 386.5,375.5 387.0,375.6 387.5,375.8 388.0,376.0 388.5,375.8 389.0,375.6 389.5,375.4 390.0,375.5 390.5,375.7 391.0,375.8 391.5,375.7 392.0,375.7 392.5,375.8 393.0,375.9 393.5,375.9 394.0,376.0 394.5,376.0 395.0,375.9 395.5,375.9 396.0,375.8 396.5,375.8 397.0,375.7 397.5,375.8 398.0,375.9 398.5,376.0 399.0,375.9 399.5,376.0 400.0,375.9 400.5,376.0 401.0,376.0 401.5,375.9 402.0,375.9 402.5,375.9 403.0,376.0 403.5,375.9 404.0,376.0 404.5,375.8 405.0,375.7 405.5,375.6 406.0,375.9 406.5,375.8 407.0,375.6 407.5,375.8 408.0,375.9 408.5,375.7 409.0,375.8 409.5,375.9 410.0,375.9 410.5,376.0 411.0,375.9 411.5,375.8 412.0,375.8 412.5,375.9 413.0,375.9 413.5,375.9 414.0,375.9 414.5,376.0 415.0,375.8 415.5,375.7 416.0,375.6 416.5,375.6 417.0,375.7 417.5,375.9 418.0,375.9 418.5,375.8 419.0,375.8 419.5,375.8 420.0,375.8 420.5,375.8 421.0,375.8 421.5,375.9 422.0,375.8 422.5,375.8 423.0,375.9 423.5,375.9 424.0,375.8 424.5,375.9 425.0,376.0 425.5,376.0 426.0,375.8 426.5,375.7 427.0,375.7 427.5,375.9 428.0,375.8 428.5,375.7 429.0,375.6 429.5,375.7 430.0,375.9 430.5,375.9 431.0,375.9 431.5,375.9 432.0,376.0 432.5,375.9" fill="none" stroke="#e01b24" stroke-width="1.6" stroke-linejoin="round" opacity="1"/>
<linearGradient id="bg" gradientUnits="userSpaceOnUse" x1="0" x2="0" y1="294" y2="350"><stop offset="0" stop-color="#c9c2ec"/><stop offset="0.6" stop-color="#e4e0f6"/><stop offset="1" stop-color="#ffffff"/></linearGradient>
<polyline points="92.5,376.0 92.5,376.0 93.0,376.0 93.5,376.0 94.0,376.0 94.5,376.0 95.0,376.0 95.5,376.0 96.0,376.0 96.5,376.0 97.0,376.0 97.5,376.0 98.0,376.0 98.5,376.0 99.0,376.0 99.5,376.0 100.0,376.0 100.5,376.0 101.0,376.0 101.5,376.0 102.0,376.0 102.5,376.0 103.0,376.0 103.5,376.0 104.0,376.0 104.5,376.0 105.0,376.0 105.5,376.0 106.0,376.0 106.5,376.0 107.0,376.0 107.5,376.0 108.0,376.0 108.5,376.0 109.0,376.0 109.5,376.0 110.0,376.0 110.5,376.0 111.0,376.0 111.5,376.0 112.0,376.0 112.5,376.0 113.0,376.0 113.5,376.0 114.0,376.0 114.5,376.0 115.0,376.0 115.5,376.0 116.0,376.0 116.5,376.0 117.0,376.0 117.5,376.0 118.0,376.0 118.5,376.0 119.0,376.0 119.5,376.0 120.0,376.0 120.5,376.0 121.0,376.0 121.5,376.0 122.0,376.0 122.5,376.0 123.0,376.0 123.5,376.0 124.0,376.0 124.5,376.0 125.0,376.0 125.5,376.0 126.0,376.0 126.5,376.0 127.0,376.0 127.5,376.0 128.0,376.0 128.5,376.0 129.0,376.0 129.5,376.0 130.0,376.0 130.5,376.0 131.0,376.0 131.5,376.0 132.0,376.0 132.5,376.0 133.0,376.0 133.5,376.0 134.0,376.0 134.5,376.0 135.0,376.0 135.5,376.0 136.0,376.0 136.5,376.0 137.0,376.0 137.5,376.0 138.0,376.0 138.5,376.0 139.0,376.0 139.5,376.0 140.0,376.0 140.5,376.0 141.0,376.0 141.5,376.0 142.0,376.0 142.5,376.0 143.0,376.0 143.5,376.0 144.0,376.0 144.5,376.0 145.0,376.0 145.5,376.0 146.0,376.0 146.5,376.0 147.0,376.0 147.5,376.0 148.0,376.0 148.5,376.0 149.0,376.0 149.5,376.0 150.0,376.0 150.5,376.0 151.0,376.0 151.5,376.0 152.0,376.0 152.5,376.0 153.0,376.0 153.5,376.0 154.0,376.0 154.5,376.0 155.0,376.0 155.5,376.0 156.0,376.0 156.5,376.0 157.0,376.0 157.5,376.0 158.0,376.0 158.5,376.0 159.0,376.0 159.5,376.0 160.0,376.0 160.5,376.0 161.0,376.0 161.5,376.0 162.0,376.0 162.5,376.0 163.0,376.0 163.5,376.0 164.0,376.0 164.5,376.0 165.0,376.0 165.5,376.0 166.0,376.0 166.5,376.0 167.0,376.0 167.5,376.0 168.0,376.0 168.5,376.0 169.0,376.0 169.5,376.0 170.0,376.0 170.5,376.0 171.0,376.0 171.5,376.0 172.0,376.0 172.5,376.0 173.0,376.0 173.5,376.0 174.0,376.0 174.5,376.0 175.0,376.0 175.5,376.0 176.0,376.0 176.5,376.0 177.0,376.0 177.5,376.0 178.0,376.0 178.5,376.0 179.0,376.0 179.5,376.0 180.0,376.0 180.5,376.0 181.0,376.0 181.5,376.0 182.0,376.0 182.5,376.0 183.0,376.0 183.5,376.0 184.0,376.0 184.5,376.0 185.0,376.0 185.5,376.0 186.0,376.0 186.5,376.0 187.0,376.0 187.5,376.0 188.0,376.0 188.5,376.0 189.0,376.0 189.5,376.0 190.0,376.0 190.5,376.0 191.0,376.0 191.5,376.0 192.0,376.0 192.5,376.0 193.0,376.0 193.5,376.0 194.0,376.0 194.5,376.0 195.0,376.0 195.5,376.0 196.0,376.0 196.5,376.0 197.0,376.0 197.5,376.0 198.0,376.0 198.5,376.0 199.0,376.0 199.5,376.0 200.0,376.0 200.5,376.0 201.0,376.0 201.5,376.0 202.0,376.0 202.5,376.0 203.0,376.0 203.5,376.0 204.0,376.0 204.5,376.0 205.0,376.0 205.5,376.0 206.0,376.0 206.5,376.0 207.0,376.0 207.5,376.0 208.0,376.0 208.5,376.0 209.0,376.0 209.5,376.0 210.0,376.0 210.5,376.0 211.0,376.0 211.5,376.0 212.0,376.0 212.5,376.0 213.0,376.0 213.5,376.0 214.0,376.0 214.5,376.0 215.0,375.9 215.5,375.9 216.0,375.9 216.5,376.0 217.0,376.0 217.5,376.0 218.0,375.9 218.5,375.9 219.0,375.9 219.5,375.9 220.0,375.9 220.5,376.0 221.0,376.0 221.5,376.0 222.0,376.0 222.5,376.0 223.0,376.0 223.5,376.0 224.0,376.0 224.5,376.0 225.0,376.0 225.5,375.9 226.0,375.9 226.5,375.9 227.0,375.9 227.5,376.0 228.0,376.0 228.5,376.0 229.0,376.0 229.5,376.0 230.0,376.0 230.5,376.0 231.0,376.0 231.5,376.0 232.0,376.0 232.5,375.9 233.0,375.9 233.5,375.9 234.0,376.0 234.5,376.0 235.0,376.0 235.5,375.9 236.0,375.9 236.5,375.8 237.0,375.9 237.5,375.9 238.0,375.9 238.5,375.9 239.0,375.9 239.5,376.0 240.0,376.0 240.5,375.9 241.0,376.0 241.5,376.0 242.0,375.9 242.5,375.8 243.0,375.8 243.5,375.8 244.0,375.9 244.5,375.9 245.0,375.9 245.5,376.0 246.0,375.9 246.5,376.0 247.0,375.9 247.5,375.9 248.0,375.9 248.5,375.9 249.0,375.8 249.5,375.8 250.0,375.8 250.5,375.8 251.0,376.0 251.5,375.9 252.0,375.9 252.5,375.9 253.0,375.9 253.5,375.9 254.0,375.8 254.5,375.7 255.0,375.8 255.5,376.0 256.0,376.0 256.5,376.0 257.0,376.0 257.5,376.0 258.0,375.9 258.5,375.9 259.0,375.9 259.5,375.9 260.0,375.9 260.5,376.0 261.0,375.9 261.5,375.9 262.0,375.9 262.5,376.0 263.0,375.9 263.5,375.9 264.0,375.8 264.5,375.8 265.0,375.9 265.5,375.9 266.0,376.0 266.5,375.9 267.0,375.9 267.5,375.8 268.0,375.7 268.5,375.7 269.0,375.7 269.5,375.8 270.0,375.7 270.1,375.7 270.2,375.7 270.3,375.6 270.4,375.6 270.5,375.6 270.6,375.5 270.7,375.5 270.8,375.4 270.9,375.3 271.0,375.2 271.1,375.3 271.2,375.3 271.3,375.2 271.4,375.1 271.5,375.1 271.6,375.0 271.7,375.0 271.8,374.9 271.9,374.8 272.0,374.7 272.1,374.6 272.2,374.5 272.3,374.4 272.4,374.2 272.5,374.0 272.6,373.6 272.7,373.2 272.8,372.9 272.9,372.6 273.0,372.3 273.1,372.0 273.2,371.4 273.3,370.3 273.4,369.0 273.5,367.5 273.6,365.8 273.7,363.9 273.8,362.2 273.9,360.1 274.0,357.8 274.1,355.1 274.2,352.2 274.3,349.0 274.4,346.0 274.5,343.3 274.6,341.1 274.7,339.5 274.8,338.1 274.9,336.9 275.0,335.8 275.1,334.8 275.2,333.9 275.3,333.1 275.4,332.3 275.5,331.4 275.6,330.4 275.7,329.4 275.8,328.3 275.9,327.1 276.0,325.5 276.1,323.6 276.2,321.6 276.3,319.4 276.4,317.1 276.5,314.7 276.6,312.4 276.7,309.9 276.8,307.7 276.9,305.6 277.0,303.4 277.1,301.2 277.2,299.4 277.3,298.0 277.4,297.0 277.5,296.0 277.6,295.3 277.7,295.9 277.8,297.0 277.9,298.2 278.0,299.4 278.1,301.2 278.2,303.3 278.3,305.6 278.4,307.7 278.5,309.8 278.6,312.2 278.7,314.7 278.8,316.9 278.9,319.2 279.0,321.5 279.1,323.7 279.2,325.5 279.3,327.0 279.4,328.2 279.5,329.3 279.6,330.4 279.7,331.3 279.8,332.3 279.9,333.0 280.0,333.8 280.1,334.6 280.2,335.6 280.3,336.6 280.4,337.8 280.5,339.3 280.6,340.9 280.7,343.1 280.8,345.9 280.9,348.9 281.0,352.0 281.1,355.0 281.2,357.4 281.3,359.8 281.4,361.8 281.5,363.6 281.6,365.5 281.7,367.1 281.8,368.7 281.9,370.0 282.0,371.0 282.1,371.6 282.2,372.0 282.3,372.5 282.4,372.8 282.5,373.1 282.6,373.2 282.7,373.4 282.8,373.6 282.9,373.9 283.0,374.1 283.1,374.1 283.2,374.2 283.3,374.3 283.4,374.3 283.5,374.3 283.6,374.2 283.7,374.3 283.8,374.4 283.9,374.5 284.0,374.5 284.1,374.7 284.2,374.7 284.3,374.6 284.4,374.6 284.5,374.6 284.6,374.6 284.7,374.7 284.8,374.8 284.9,374.7 285.0,374.7 285.1,374.8 285.2,374.8 285.3,374.7 285.4,374.7 285.5,374.7 285.6,374.6 285.7,374.6 285.8,374.7 285.9,374.6 286.0,374.5 286.5,374.3 287.0,373.8 287.5,373.5 288.0,373.0 288.5,372.5 289.0,371.9 289.5,371.4 290.0,371.0 290.5,370.9 291.0,370.9 291.5,371.1 292.0,371.4 292.5,371.6 293.0,371.7 293.5,371.5 294.0,371.0 294.5,370.2 295.0,369.0 295.5,367.7 296.0,366.5 296.5,365.5 297.0,364.9 297.5,364.8 298.0,365.3 298.5,366.4 299.0,367.9 299.5,369.3 300.0,370.8 300.5,372.2 301.0,373.2 301.5,373.9 302.0,374.4 302.5,374.9 303.0,375.3 303.5,375.2 304.0,375.3 304.5,375.5 305.0,375.6 305.5,375.8 306.0,375.8 306.5,375.7 307.0,375.7 307.5,375.8 308.0,375.9 308.5,375.9 309.0,375.9 309.5,375.9 310.0,375.9 310.5,376.0 311.0,375.9 311.5,375.8 312.0,375.6 312.5,375.5 313.0,375.3 313.5,374.9 314.0,374.3 314.5,373.5 315.0,372.8 315.5,372.2 316.0,371.7 316.5,371.8 317.0,372.1 317.5,372.6 318.0,373.3 318.5,373.9 319.0,374.5 319.5,374.8 320.0,375.0 320.5,375.1 321.0,375.1 321.5,374.9 322.0,374.7 322.5,374.6 323.0,374.5 323.5,374.5 324.0,374.6 324.5,374.7 325.0,375.0 325.5,375.2 326.0,375.5 326.5,375.6 327.0,375.7 327.5,375.8 328.0,375.9 328.5,375.9 329.0,375.9 329.5,376.0 330.0,375.8 330.5,375.7 331.0,375.6 331.5,375.7 332.0,375.8 332.5,375.8 333.0,375.8 333.5,375.8 334.0,375.8 334.5,375.8 335.0,375.8 335.5,375.6 336.0,375.3 336.5,375.2 337.0,375.0 337.5,374.9 338.0,374.6 338.5,374.3 339.0,374.2 339.5,374.1 340.0,374.1 340.5,374.4 341.0,374.6 341.5,374.9 342.0,375.1 342.5,375.3 343.0,375.6 343.5,375.7 344.0,375.8 344.5,375.9 345.0,375.8 345.5,375.9 346.0,376.0 346.5,376.0 347.0,376.0 347.5,376.0 348.0,376.0 348.5,375.9 349.0,375.9 349.5,375.9 350.0,375.9 350.5,375.9 351.0,376.0 351.5,376.0 352.0,375.9 352.5,375.9 353.0,376.0 353.5,375.9 354.0,375.9 354.5,375.8 355.0,375.8 355.5,375.9 356.0,375.9 356.5,375.8 357.0,375.8 357.5,375.8 358.0,375.9 358.5,376.0 359.0,375.8 359.5,375.8 360.0,375.9 360.5,376.0 361.0,375.9 361.5,376.0 362.0,375.9 362.5,375.8 363.0,375.9 363.5,376.0 364.0,376.0 364.5,376.0 365.0,375.9 365.5,376.0 366.0,376.0 366.5,376.0 367.0,376.0 367.5,375.9 368.0,375.9 368.5,376.0 369.0,375.9 369.5,375.8 370.0,375.9 370.5,376.0 371.0,376.0 371.5,375.9 372.0,375.8 372.5,375.9 373.0,375.9 373.5,376.0 374.0,376.0 374.5,376.0 375.0,375.9 375.5,375.8 376.0,375.9 376.5,376.0 377.0,375.9 377.5,375.9 378.0,376.0 378.5,375.9 379.0,375.8 379.5,375.8 380.0,375.9 380.5,375.9 381.0,376.0 381.5,376.0 382.0,376.0 382.5,376.0 383.0,376.0 383.5,376.0 384.0,376.0 384.5,376.0 385.0,376.0 385.5,376.0 386.0,376.0 386.5,375.9 387.0,375.9 387.5,376.0 388.0,376.0 388.5,376.0 389.0,376.0 389.5,375.9 390.0,375.9 390.5,375.9 391.0,375.9 391.5,375.9 392.0,375.9 392.5,375.9 393.0,375.9 393.5,376.0 394.0,376.0 394.5,376.0 395.0,376.0 395.5,376.0 396.0,376.0 396.5,376.0 397.0,376.0 397.5,376.0 398.0,376.0 398.5,376.0 399.0,376.0 399.5,376.0 400.0,375.9 400.5,375.9 401.0,376.0 401.5,376.0 402.0,376.0 402.5,376.0 403.0,376.0 403.5,376.0 404.0,376.0 404.5,376.0 405.0,376.0 405.5,376.0 406.0,376.0 406.5,376.0 407.0,376.0 407.5,376.0 408.0,376.0 408.5,376.0 409.0,376.0 409.5,376.0 410.0,376.0 410.5,376.0 411.0,376.0 411.5,376.0 412.0,376.0 412.5,376.0 413.0,376.0 413.5,376.0 414.0,376.0 414.5,376.0 415.0,376.0 415.5,376.0 416.0,376.0 416.5,376.0 417.0,376.0 417.5,376.0 418.0,376.0 418.5,376.0 419.0,376.0 419.5,376.0 420.0,376.0 420.5,376.0 421.0,376.0 421.5,376.0 422.0,376.0 422.5,376.0 423.0,376.0 423.5,376.0 424.0,376.0 424.5,376.0 425.0,376.0 425.5,376.0 426.0,376.0 426.5,376.0 427.0,376.0 427.5,376.0 428.0,376.0 428.5,376.0 429.0,376.0 429.5,376.0 430.0,376.0 430.5,376.0 431.0,376.0 431.5,376.0 432.0,376.0 432.5,376.0 432.5,376.0" fill="url(#bg)" stroke="#2e2a86" stroke-width="1.5" stroke-linejoin="round" opacity="1"/>
<rect x="92.3" y="375.6" width="340.2" height="2.3" fill="#33201f"/>
<linearGradient id="rg" x1="0" x2="1" y1="0" y2="0"><stop offset="0" stop-color="#b8242b" stop-opacity="0.45"/><stop offset="0.35" stop-color="#b8242b" stop-opacity="0.55"/><stop offset="1" stop-color="#c4262d" stop-opacity="0.95"/></linearGradient>
<rect x="92.3" y="374.8" width="340.2" height="1.0" fill="url(#rg)"/>
<path d="M277.7,170 L277.5,188 L277.3,204" stroke="#dc2a30" stroke-width="1.3" fill="none"/>
<circle cx="277.5" cy="169.6" r="1.0" fill="#231f20"/>
<text x="280.85" y="177.7" font-size="15" textLength="53.99" lengthAdjust="spacingAndGlyphs" fill="#231f20" stroke="#231f20" stroke-width="0.4" >2126.03</text>
<text x="150.08" y="395.3" font-size="13.8" textLength="31.87" lengthAdjust="spacingAndGlyphs" fill="#231f20" stroke="#231f20" stroke-width="0.4" >2100</text>
<text x="230.47" y="395.3" font-size="13.8" textLength="32.49" lengthAdjust="spacingAndGlyphs" fill="#231f20" stroke="#231f20" stroke-width="0.4" >2120</text>
<text x="317.56" y="395.2" font-size="13.8" textLength="32.91" lengthAdjust="spacingAndGlyphs" fill="#231f20" stroke="#231f20" stroke-width="0.4" >2140</text>
<text x="406.25" y="397.4" font-size="15.2" textLength="33.33" lengthAdjust="spacingAndGlyphs" fill="#231f20" stroke="#231f20" stroke-width="0.4" >2160</text>
<text x="260.99" y="420.2" font-size="15.5" textLength="21.18" lengthAdjust="spacingAndGlyphs" fill="#231f20" stroke="#231f20" stroke-width="0.45" font-style="italic">m/z</text>
<rect x="307.7" y="272.5" width="122.5" height="2.3" fill="#17163c"/>
<rect x="430" y="272.6" width="61.3" height="1.7" fill="#1b1a40"/>
<path d="M378.2,110.5 L378.2,153 L377.5,155 L377.5,273 L381.4,273 L381.4,264 L380.5,264 L380.5,155 L379.9,153 L379.9,110.5 Z" fill="#3a2f95"/>
<rect x="378.4" y="265" width="2.2" height="7.6" fill="#b9b3e0"/>
<path d="M383.8,272.8 L385.0,270.8 L385.9,256.2 L386.9,254.7 L387.9,256.2 L388.8,270.8 L390.0,272.8 Z" fill="#3a2f95"/>
<rect x="386.4" y="259.7" width="1.0" height="13.1" fill="#c9c4e8"/>
<path d="M391.5,272.8 L392.7,270.8 L393.4,267.2 L394.3,265.7 L395.2,267.2 L395.9,270.8 L397.1,272.8 Z" fill="#3a2f95"/>
<rect x="393.9" y="270.7" width="0.7" height="2.1" fill="#c9c4e8"/>
<path d="M400.8,272.8 L402.0,270.8 L402.7,270.1 L403.5,268.6 L404.3,270.1 L405.0,270.8 L406.2,272.8 Z" fill="#3a2f95"/>
<path d="M364.9,272.8 L366.1,270.8 L366.7,270.1 L367.4,268.6 L368.1,270.1 L368.7,270.8 L369.9,272.8 Z" fill="#3a2f95"/>
<path d="M369.6,272.8 L370.8,270.8 L371.2,272.5 L371.8,271.0 L372.4,272.5 L372.8,270.8 L374.0,272.8 Z" fill="#3a2f95"/>
<path d="M408.5,272.8 L409.7,270.8 L410.2,272.8 L410.9,271.3 L411.6,272.8 L412.1,270.8 L413.3,272.8 Z" fill="#3a2f95"/>
<path d="M396.2,272.8 L397.4,270.8 L397.8,273.1 L398.3,271.6 L398.8,273.1 L399.2,270.8 L400.4,272.8 Z" fill="#3a2f95"/>
<circle cx="379.0" cy="110.6" r="1.0" fill="#231f20"/>
<text x="381.86" y="122.5" font-size="14" textLength="53.67" lengthAdjust="spacingAndGlyphs" fill="#231f20" stroke="#231f20" stroke-width="0.4" >23375.4</text>
<text x="400.95" y="158.1" font-size="14.2" textLength="93.02" lengthAdjust="spacingAndGlyphs" fill="#231f20" stroke="#231f20" stroke-width="0.4" >Deconvoluted</text>
<text x="401.20" y="174.6" font-size="14.2" textLength="47.99" lengthAdjust="spacingAndGlyphs" fill="#231f20" stroke="#231f20" stroke-width="0.4" >spectra</text>
<text x="306.36" y="290.1" font-size="14" textLength="40.89" lengthAdjust="spacingAndGlyphs" fill="#231f20" stroke="#231f20" stroke-width="0.4" >23000</text>
<text x="375.75" y="290.1" font-size="14" textLength="41.61" lengthAdjust="spacingAndGlyphs" fill="#231f20" stroke="#231f20" stroke-width="0.4" >23500</text>
<text x="451.16" y="290.1" font-size="14" textLength="41.10" lengthAdjust="spacingAndGlyphs" fill="#231f20" stroke="#231f20" stroke-width="0.4" >24000</text>
<text x="367.58" y="311.5" font-size="14.3" textLength="57.40" lengthAdjust="spacingAndGlyphs" fill="#231f20" stroke="#231f20" stroke-width="0.55" >Mass (Da)</text>
<rect x="0" y="0" width="520" height="1.15" fill="#383838"/>
<rect x="0" y="0" width="1.15" height="434" fill="#383838"/>
<rect x="518.65" y="0" width="1.35" height="434" fill="#333"/>
<rect x="0" y="432.6" width="520" height="1.4" fill="#333"/>
</svg>
</body></html>
